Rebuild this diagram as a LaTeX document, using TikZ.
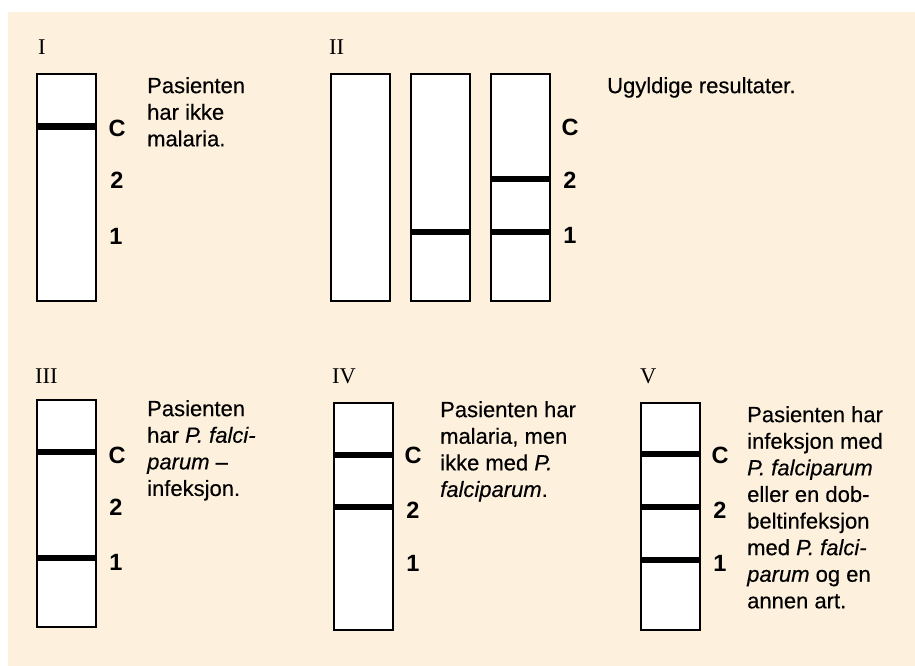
\documentclass[tikz,border=0pt]{standalone}
\usepackage{fontspec}
\setsansfont{Liberation Sans}
\newfontfamily\numfont{Liberation Serif}
\newfontfamily\descfont[FakeBold=0.35]{Liberation Sans}
\definecolor{peach}{RGB}{253,240,221}
\begin{document}
\begin{tikzpicture}[x=1pt,y=-1pt,
  strip/.style={draw=black, line width=2.2pt, fill=white, minimum width=59pt, minimum height=227pt, inner sep=0pt, outer sep=0pt, anchor=north west},
  band/.style={line width=6.5pt, black},
  lab/.style={font=\sffamily\bfseries\fontsize{23.5}{25}\selectfont, inner sep=0pt},
  num/.style={font=\numfont\fontsize{22.5}{25}\selectfont, inner sep=0pt, anchor=base west},
  desc/.style={font=\descfont\fontsize{22}{26.6}\selectfont, inner sep=0pt, anchor=north west, align=left}]
\useasboundingbox (0,0) rectangle (915,666);
\fill[peach] (8,12) rectangle (915,666);

% roman numerals
\node[num] (nI) at (38,55) {I};
\node[num] (nII) at (329,55) {II};
\node[num] (nIII) at (35,383) {III};
\node[num] (nIV) at (332,383) {IV};
\node[num] (nV) at (640,383) {V};

% strips
\node[strip] (s1) at (37,74) {};
\node[strip] (s2a) at (331,74) {};
\node[strip] (s2b) at (411,74) {};
\node[strip] (s2c) at (491,74) {};
\node[strip] (s3) at (37,400) {};
\node[strip] (s4) at (334,403) {};
\node[strip] (s5) at (641,403) {};

% bands
\draw[band] (s1.west |- 0,126.5) -- (s1.east |- 0,126.5);
\draw[band] (s2b.west |- 0,232) -- (s2b.east |- 0,232);
\draw[band] (s2c.west |- 0,179) -- (s2c.east |- 0,179);
\draw[band] (s2c.west |- 0,232) -- (s2c.east |- 0,232);
\draw[band] (s3.west |- 0,452) -- (s3.east |- 0,452);
\draw[band] (s3.west |- 0,558) -- (s3.east |- 0,558);
\draw[band] (s4.west |- 0,455) -- (s4.east |- 0,455);
\draw[band] (s4.west |- 0,507) -- (s4.east |- 0,507);
\draw[band] (s5.west |- 0,454) -- (s5.east |- 0,454);
\draw[band] (s5.west |- 0,507) -- (s5.east |- 0,507);
\draw[band] (s5.west |- 0,560) -- (s5.east |- 0,560);

% C/2/1 labels
\node[lab] (c1) at (117,128) {C};
\node[lab] (t1) at (117,180) {2};
\node[lab] (o1) at (116,236) {1};
\node[lab] (c2) at (570,127) {C};
\node[lab] (t2) at (570,180) {2};
\node[lab] (o2) at (570,235) {1};
\node[lab] (c3) at (117,455) {C};
\node[lab] (t3) at (116,507) {2};
\node[lab] (o3) at (116,562) {1};
\node[lab] (c4) at (413,455) {C};
\node[lab] (t4) at (413,510) {2};
\node[lab] (o4) at (413,563) {1};
\node[lab] (c5) at (720,455) {C};
\node[lab] (t5) at (720,510) {2};
\node[lab] (o5) at (720,563) {1};

% descriptions
\node[desc] (dI) at (147,77) {Pasienten\\har ikke\\malaria.};
\node[desc] (dII) at (607,77) {Ugyldige resultater.};
\node[desc] (dIII) at (147,400) {Pasienten\\har \textit{P. falci-}\\\textit{parum} –\\infeksjon.};
\node[desc] (dIV) at (440,401) {Pasienten har\\malaria, men\\ikke med \textit{P.}\\\textit{falciparum}.};
\node[desc] (dV) at (747,406) {Pasienten har\\infeksjon med\\\textit{P. falciparum}\\eller en dob-\\beltinfeksjon\\med \textit{P. falci-}\\\textit{parum} og en\\annen art.};
\end{tikzpicture}
\end{document}
